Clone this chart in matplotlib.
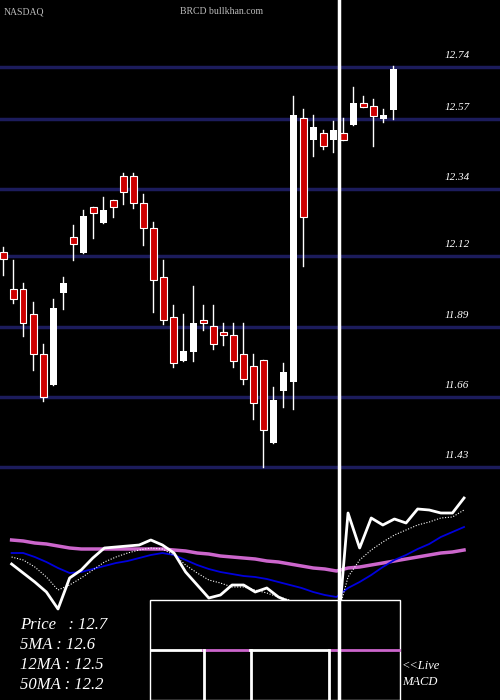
import matplotlib
matplotlib.use("Agg")
import matplotlib.pyplot as plt
from matplotlib.patches import Rectangle
from matplotlib.lines import Line2D

opens  = [12.134,12.013,12.013,11.931,11.800,11.699,12.000,12.183,12.131,12.282,12.229,12.304,12.383,12.383,12.295,12.213,12.052,11.921,11.777,11.807,
          11.911,11.892,11.872,11.862,11.800,11.761,11.780,11.509,11.679,11.708,12.573,12.501,12.524,12.501,12.524,12.550,12.622,12.612,12.570,12.599]
highs  = [12.150,12.108,12.033,11.970,11.833,11.980,12.052,12.223,12.272,12.282,12.314,12.304,12.393,12.393,12.324,12.232,12.108,11.961,11.931,12.023,
          11.961,11.961,11.902,11.902,11.902,11.800,11.780,11.692,11.771,12.645,12.602,12.583,12.534,12.563,12.573,12.675,12.645,12.635,12.602,12.743]
lows   = [12.059,11.967,11.859,11.748,11.646,11.699,11.947,12.108,12.131,12.180,12.229,12.249,12.291,12.278,12.157,11.938,11.898,11.757,11.777,11.777,
          11.879,11.816,11.830,11.757,11.702,11.587,11.430,11.509,11.627,11.620,12.088,12.449,12.471,12.462,12.501,12.550,12.609,12.481,12.560,12.570]
closes = [12.111,11.980,11.902,11.800,11.659,11.951,12.033,12.160,12.252,12.262,12.272,12.282,12.331,12.295,12.213,12.042,11.911,11.771,11.810,11.902,
          11.902,11.833,11.862,11.777,11.718,11.640,11.551,11.649,11.741,12.583,12.249,12.544,12.481,12.534,12.501,12.622,12.609,12.580,12.583,12.733]
price_levels = [12.74, 12.57, 12.34, 12.12, 11.89, 11.66, 11.43]

# lower indicator panel (panel units, larger = lower on screen)
ind_price = [564,573,582,592,609,578,570,558,548,547,546,545,540,545,553,572,585,598,595,585,
             585,592,588,597,602,615,625,635,650,513,548,518,525,519,523,509,510,513,513,498]
ind_ma5 = [557,560,567,577,590,585,578,570,562,557,553,550,548,549,555,565,573,580,583,587,
           587,590,593,597,600,610,620,630,620,577,560,550,542,535,530,525,522,518,517,510]
ind_ma12 = [553,553,557,562,568,573,572,569,566,563,561,558,555,553,555,560,565,569,572,574,
            576,577,579,582,585,588,592,595,597,588,582,575,567,560,555,549,544,537,532,527]
ind_ma50 = [540,541,543,544,546,548,549,549,549,549,549,549,549,549,550,551,553,554,556,557,
            558,559,561,562,564,566,568,569,571,568,567,565,563,561,559,557,555,553,552,550]

fig = plt.figure(figsize=(5, 7), dpi=100, facecolor="black")
ax = fig.add_axes([0, 0, 1, 1], facecolor="black")
ax.set_xlim(-0.3, 49.7)
ax.set_ylim(12.74 - 633 * 0.003275, 12.74 + 67 * 0.003275)
ax.axis("off")

for lv in price_levels:
    ax.axhline(lv, color="#1c1c5c", lw=2.5, zorder=1)
    ax.annotate(f"{lv:.2f}", (44.2, lv), xytext=(0, 5), textcoords="offset points",
                color="white", fontsize=8, family="Liberation Serif", style="italic", va="bottom")

for i, (o, h, l, c) in enumerate(zip(opens, highs, lows, closes)):
    ax.plot([i, i], [l, h], color="white", lw=1, zorder=2)
    red = c < o
    ax.add_patch(Rectangle((i - 0.35, min(o, c)), 0.7, max(abs(c - o), 0.004),
                           facecolor="#cc0000" if red else "white", edgecolor="white",
                           lw=0.8 if red else 0, zorder=3))

ax2 = fig.add_axes([0, 0, 1, 0.3], facecolor="none")
ax2.set_xlim(-1, 42.1)
ax2.set_ylim(700, 490)
ax2.axis("off")
xs = list(range(len(ind_price)))
ax2.plot(xs, ind_ma50, color="#cc66cc", lw=2.5)
ax2.plot(xs, ind_ma12, color="#0000dd", lw=1.3)
ax2.plot(xs, ind_ma5, color="white", lw=0.8, ls=(0, (1, 1.5)))
ax2.plot(xs, ind_price, color="white", lw=2)

# MACD box
fig.patches.append(Rectangle((150/500, 0), 250/500, 100/700, transform=fig.transFigure,
                             facecolor="black", edgecolor="white", lw=1, zorder=5))
def fl(xp, yp, color, lw=2):
    fig.lines.append(Line2D([x/500 for x in xp], [1 - y/700 for y in yp], transform=fig.transFigure,
                            color=color, lw=lw, zorder=6))
fl([151, 203], [650, 650], "white")
fl([203, 250], [650, 650], "#cc66cc")
fl([250, 328], [650, 650], "white")
fl([330, 399], [650, 650], "#cc66cc")
for xv in [204, 251, 329]:
    fl([xv, xv], [650, 700], "white")

# vertical marker line
fl([338.5, 338.5], [0, 700], "white", lw=2.5)

txt = dict(color="white", family="Liberation Serif", style="italic", fontsize=12)
fig.text(20/500, 1 - 625/700, "Price   : 12.7", va="center", **txt)
fig.text(20/500, 1 - 645/700, "5MA : 12.6", va="center", **txt)
fig.text(20/500, 1 - 665/700, "12MA : 12.5", va="center", **txt)
fig.text(20/500, 1 - 685/700, "50MA : 12.2", va="center", **txt)
fig.text(402/500, 1 - 666/700, "<<Live", va="center", color="white", family="Liberation Serif", style="italic", fontsize=9)
fig.text(402/500, 1 - 682/700, "MACD", va="center", color="white", family="Liberation Serif", style="italic", fontsize=9)
fig.text(4/500, 1 - 12/700, "NASDAQ", va="center", color="#bbbbbb", family="Liberation Serif", fontsize=7)
fig.text(180/500, 1 - 12/700, "BRCD bullkhan.com", va="center", color="#bbbbbb", family="Liberation Serif", fontsize=7)

fig.savefig("out.png", facecolor="black")
